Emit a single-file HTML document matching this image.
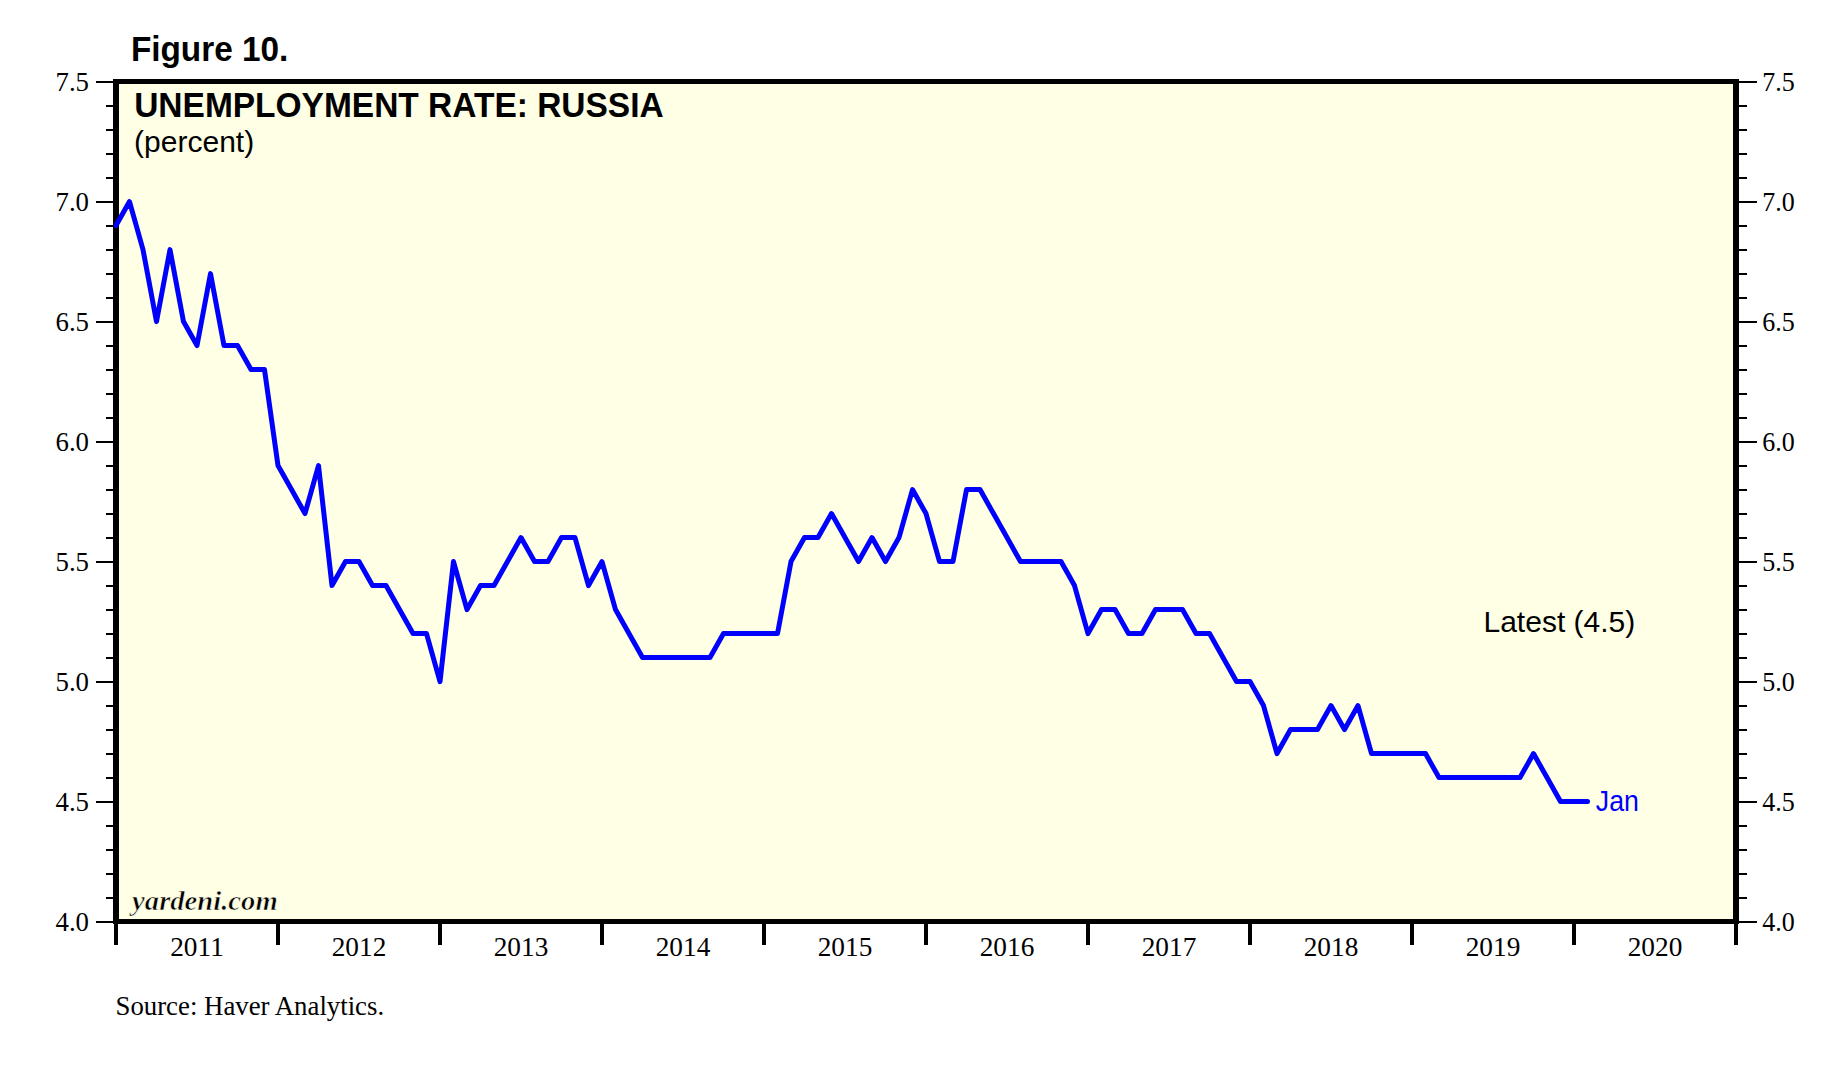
<!DOCTYPE html>
<html><head><meta charset="utf-8"><style>
html,body{margin:0;padding:0;background:#fff;}
body{width:1848px;height:1074px;overflow:hidden;}
svg{display:block;}
.sans{font-family:"Liberation Sans",sans-serif;}
.serif{font-family:"Liberation Serif",serif;}
</style></head><body>
<svg width="1848" height="1074" viewBox="0 0 1848 1074">
<rect x="0" y="0" width="1848" height="1074" fill="#ffffff"/>
<rect x="119" y="84" width="1614" height="835" fill="#ffffe6"/>
<g fill="#000" shape-rendering="crispEdges">
<rect x="96" y="921" width="17" height="2"/>
<rect x="1739" y="921" width="18" height="2"/>
<rect x="106" y="897" width="7" height="2"/>
<rect x="1739" y="897" width="8" height="2"/>
<rect x="106" y="873" width="7" height="2"/>
<rect x="1739" y="873" width="8" height="2"/>
<rect x="106" y="849" width="7" height="2"/>
<rect x="1739" y="849" width="8" height="2"/>
<rect x="106" y="825" width="7" height="2"/>
<rect x="1739" y="825" width="8" height="2"/>
<rect x="96" y="801" width="17" height="2"/>
<rect x="1739" y="801" width="18" height="2"/>
<rect x="106" y="777" width="7" height="2"/>
<rect x="1739" y="777" width="8" height="2"/>
<rect x="106" y="753" width="7" height="2"/>
<rect x="1739" y="753" width="8" height="2"/>
<rect x="106" y="729" width="7" height="2"/>
<rect x="1739" y="729" width="8" height="2"/>
<rect x="106" y="705" width="7" height="2"/>
<rect x="1739" y="705" width="8" height="2"/>
<rect x="96" y="681" width="17" height="2"/>
<rect x="1739" y="681" width="18" height="2"/>
<rect x="106" y="657" width="7" height="2"/>
<rect x="1739" y="657" width="8" height="2"/>
<rect x="106" y="633" width="7" height="2"/>
<rect x="1739" y="633" width="8" height="2"/>
<rect x="106" y="609" width="7" height="2"/>
<rect x="1739" y="609" width="8" height="2"/>
<rect x="106" y="585" width="7" height="2"/>
<rect x="1739" y="585" width="8" height="2"/>
<rect x="96" y="561" width="17" height="2"/>
<rect x="1739" y="561" width="18" height="2"/>
<rect x="106" y="537" width="7" height="2"/>
<rect x="1739" y="537" width="8" height="2"/>
<rect x="106" y="513" width="7" height="2"/>
<rect x="1739" y="513" width="8" height="2"/>
<rect x="106" y="489" width="7" height="2"/>
<rect x="1739" y="489" width="8" height="2"/>
<rect x="106" y="465" width="7" height="2"/>
<rect x="1739" y="465" width="8" height="2"/>
<rect x="96" y="441" width="17" height="2"/>
<rect x="1739" y="441" width="18" height="2"/>
<rect x="106" y="417" width="7" height="2"/>
<rect x="1739" y="417" width="8" height="2"/>
<rect x="106" y="393" width="7" height="2"/>
<rect x="1739" y="393" width="8" height="2"/>
<rect x="106" y="369" width="7" height="2"/>
<rect x="1739" y="369" width="8" height="2"/>
<rect x="106" y="345" width="7" height="2"/>
<rect x="1739" y="345" width="8" height="2"/>
<rect x="96" y="321" width="17" height="2"/>
<rect x="1739" y="321" width="18" height="2"/>
<rect x="106" y="297" width="7" height="2"/>
<rect x="1739" y="297" width="8" height="2"/>
<rect x="106" y="273" width="7" height="2"/>
<rect x="1739" y="273" width="8" height="2"/>
<rect x="106" y="249" width="7" height="2"/>
<rect x="1739" y="249" width="8" height="2"/>
<rect x="106" y="225" width="7" height="2"/>
<rect x="1739" y="225" width="8" height="2"/>
<rect x="96" y="201" width="17" height="2"/>
<rect x="1739" y="201" width="18" height="2"/>
<rect x="106" y="177" width="7" height="2"/>
<rect x="1739" y="177" width="8" height="2"/>
<rect x="106" y="153" width="7" height="2"/>
<rect x="1739" y="153" width="8" height="2"/>
<rect x="106" y="129" width="7" height="2"/>
<rect x="1739" y="129" width="8" height="2"/>
<rect x="106" y="105" width="7" height="2"/>
<rect x="1739" y="105" width="8" height="2"/>
<rect x="96" y="81" width="17" height="2"/>
<rect x="1739" y="81" width="18" height="2"/>
<rect x="114" y="924" width="4" height="21"/>
<rect x="276" y="924" width="4" height="21"/>
<rect x="438" y="924" width="4" height="21"/>
<rect x="600" y="924" width="4" height="21"/>
<rect x="762" y="924" width="4" height="21"/>
<rect x="924" y="924" width="4" height="21"/>
<rect x="1086" y="924" width="4" height="21"/>
<rect x="1248" y="924" width="4" height="21"/>
<rect x="1410" y="924" width="4" height="21"/>
<rect x="1572" y="924" width="4" height="21"/>
<rect x="1734" y="924" width="4" height="21"/>
<rect x="113" y="79" width="1626" height="5"/>
<rect x="113" y="919" width="1626" height="5"/>
<rect x="113" y="79" width="6" height="845"/>
<rect x="1733" y="79" width="6" height="845"/>
</g>
<polyline points="116,225.6 129.5,201.6 143,249.6 156.5,321.6 170,249.6 183.5,321.6 197,345.6 210.5,273.6 224,345.6 237.5,345.6 251,369.6 264.5,369.6 278,465.6 291.5,489.6 305,513.6 318.5,465.6 332,585.6 345.5,561.6 359,561.6 372.5,585.6 386,585.6 399.5,609.6 413,633.6 426.5,633.6 440,681.6 453.5,561.6 467,609.6 480.5,585.6 494,585.6 507.5,561.6 521,537.6 534.5,561.6 548,561.6 561.5,537.6 575,537.6 588.5,585.6 602,561.6 615.5,609.6 629,633.6 642.5,657.6 656,657.6 669.5,657.6 683,657.6 696.5,657.6 710,657.6 723.5,633.6 737,633.6 750.5,633.6 764,633.6 777.5,633.6 791,561.6 804.5,537.6 818,537.6 831.5,513.6 845,537.6 858.5,561.6 872,537.6 885.5,561.6 899,537.6 912.5,489.6 926,513.6 939.5,561.6 953,561.6 966.5,489.6 980,489.6 993.5,513.6 1007,537.6 1020.5,561.6 1034,561.6 1047.5,561.6 1061,561.6 1074.5,585.6 1088,633.6 1101.5,609.6 1115,609.6 1128.5,633.6 1142,633.6 1155.5,609.6 1169,609.6 1182.5,609.6 1196,633.6 1209.5,633.6 1223,657.6 1236.5,681.6 1250,681.6 1263.5,705.6 1277,753.6 1290.5,729.6 1304,729.6 1317.5,729.6 1331,705.6 1344.5,729.6 1358,705.6 1371.5,753.6 1385,753.6 1398.5,753.6 1412,753.6 1425.5,753.6 1439,777.6 1452.5,777.6 1466,777.6 1479.5,777.6 1493,777.6 1506.5,777.6 1520,777.6 1533.5,753.6 1547,777.6 1560.5,801.6 1574,801.6 1587.5,801.6" fill="none" stroke="#0000ff" stroke-width="5" stroke-linejoin="round" stroke-linecap="round"/>
<g class="serif" font-size="26.8" fill="#000">
<text x="89" y="930.6" text-anchor="end">4.0</text>
<text x="1762.3" y="930.6" textLength="32.5" lengthAdjust="spacingAndGlyphs">4.0</text>
<text x="89" y="810.6" text-anchor="end">4.5</text>
<text x="1762.3" y="810.6" textLength="32.5" lengthAdjust="spacingAndGlyphs">4.5</text>
<text x="89" y="690.6" text-anchor="end">5.0</text>
<text x="1762.3" y="690.6" textLength="32.5" lengthAdjust="spacingAndGlyphs">5.0</text>
<text x="89" y="570.6" text-anchor="end">5.5</text>
<text x="1762.3" y="570.6" textLength="32.5" lengthAdjust="spacingAndGlyphs">5.5</text>
<text x="89" y="450.6" text-anchor="end">6.0</text>
<text x="1762.3" y="450.6" textLength="32.5" lengthAdjust="spacingAndGlyphs">6.0</text>
<text x="89" y="330.6" text-anchor="end">6.5</text>
<text x="1762.3" y="330.6" textLength="32.5" lengthAdjust="spacingAndGlyphs">6.5</text>
<text x="89" y="210.6" text-anchor="end">7.0</text>
<text x="1762.3" y="210.6" textLength="32.5" lengthAdjust="spacingAndGlyphs">7.0</text>
<text x="89" y="90.6" text-anchor="end">7.5</text>
<text x="1762.3" y="90.6" textLength="32.5" lengthAdjust="spacingAndGlyphs">7.5</text>
</g>
<g class="serif" font-size="27.3" fill="#000">
<text x="197" y="956" text-anchor="middle">2011</text>
<text x="359" y="956" text-anchor="middle">2012</text>
<text x="521" y="956" text-anchor="middle">2013</text>
<text x="683" y="956" text-anchor="middle">2014</text>
<text x="845" y="956" text-anchor="middle">2015</text>
<text x="1007" y="956" text-anchor="middle">2016</text>
<text x="1169" y="956" text-anchor="middle">2017</text>
<text x="1331" y="956" text-anchor="middle">2018</text>
<text x="1493" y="956" text-anchor="middle">2019</text>
<text x="1655" y="956" text-anchor="middle">2020</text>
</g>
<text class="sans" x="130.9" y="61.2" font-size="34.5" font-weight="bold" textLength="157.4" lengthAdjust="spacingAndGlyphs">Figure 10.</text>
<text class="sans" x="134.2" y="117" font-size="34.5" font-weight="bold" textLength="529.5" lengthAdjust="spacingAndGlyphs">UNEMPLOYMENT RATE: RUSSIA</text>
<text class="sans" x="134.1" y="151.8" font-size="30">(percent)</text>
<text class="sans" x="1483.5" y="632" font-size="30">Latest (4.5)</text>
<text class="sans" x="1595.8" y="810.9" font-size="29" fill="#0000ff" textLength="43.1" lengthAdjust="spacingAndGlyphs">Jan</text>
<text class="serif" x="132.1" y="910.4" font-size="27.5" font-weight="bold" font-style="italic" textLength="145.6" lengthAdjust="spacingAndGlyphs" stroke="#ffffe6" stroke-width="0.6">yardeni.com</text>
<text class="serif" x="115.5" y="1014.8" font-size="26.8">Source: Haver Analytics.</text>
</svg>
</body></html>
